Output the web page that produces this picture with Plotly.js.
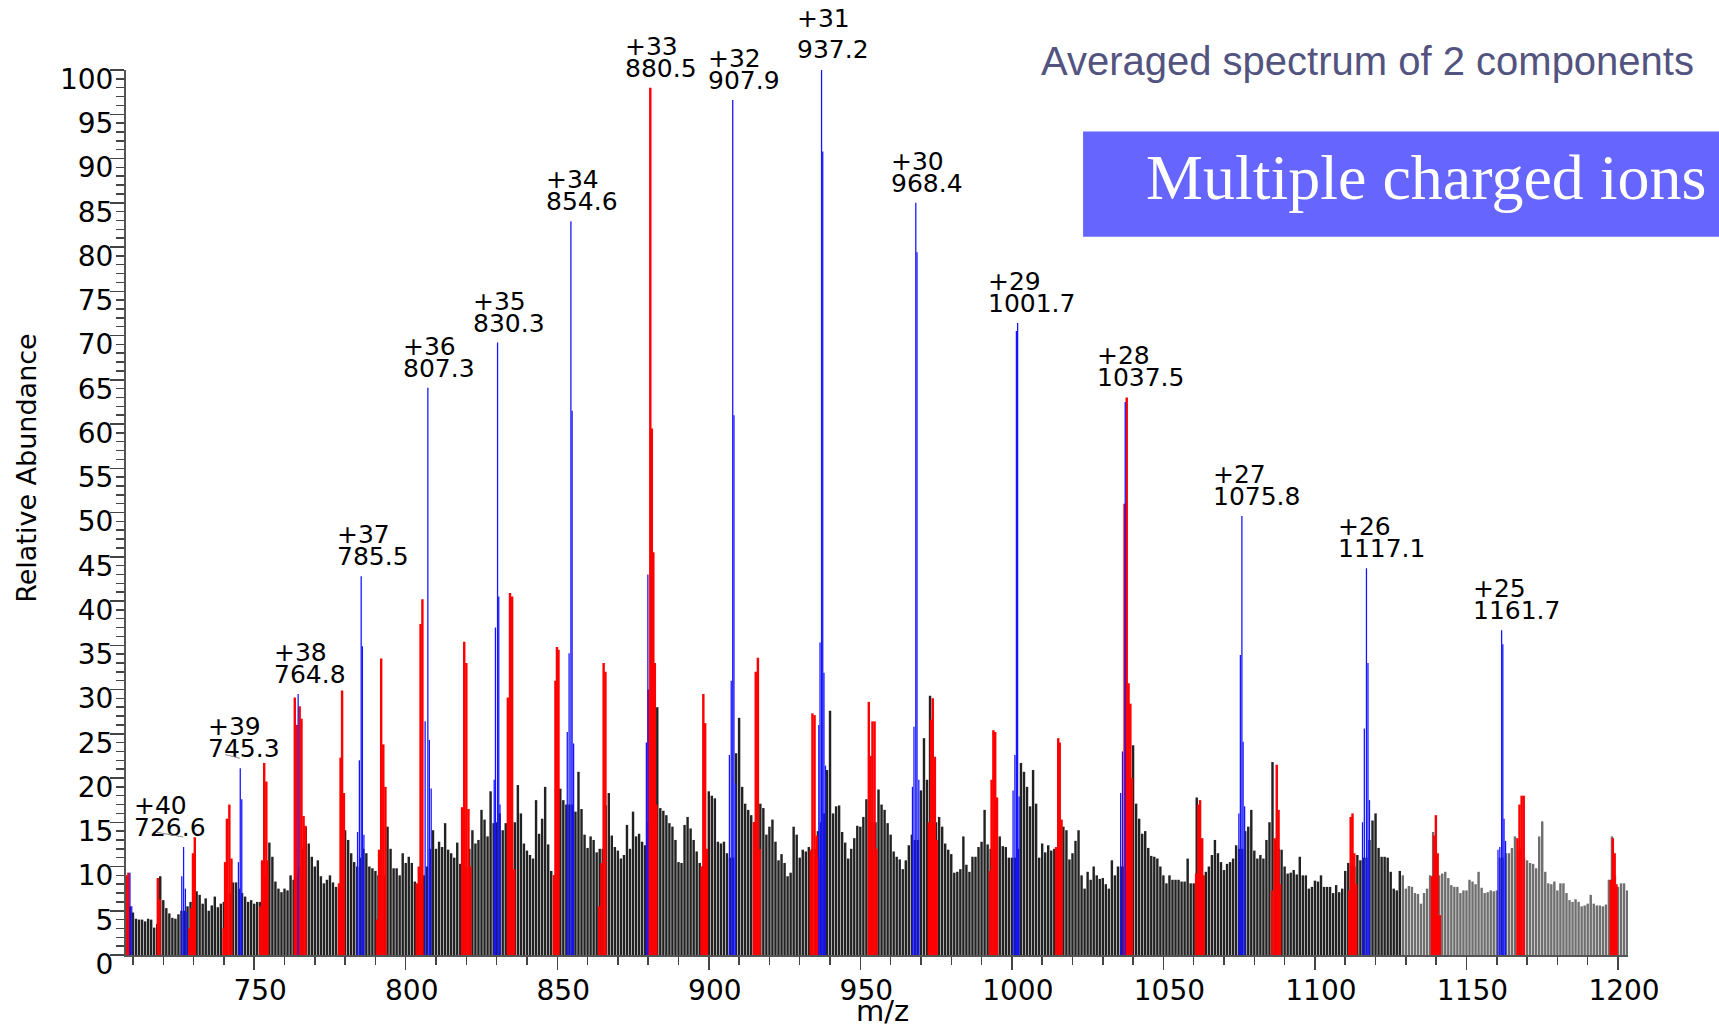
<!DOCTYPE html>
<html><head><meta charset="utf-8">
<script src="https://cdn.plot.ly/plotly-3.0.1.min.js"></script>
<style>html,body{margin:0;padding:0;background:#fff;}#chart{width:1719px;height:1029px;}</style>
</head><body><div id="chart"></div>
<script>
// ---- data ----
const noiseStart = 708; // m/z of first background bar, one bar per m/z unit
const noise = [
4.5,5.5,4.8,4.1,4.0,4.0,3.8,4.1,4.0,3.1,
3.5,8.9,6.2,5.3,4.7,4.2,4.1,4.6,5.0,5.0,
5.5,6.0,6.5,7.2,6.8,5.8,6.4,5.0,5.6,6.6,
5.4,5.8,6.0,6.5,7.0,8.2,8.2,7.5,7.0,6.6,
6.0,6.2,5.8,6.0,6.0,6.5,9.0,12.7,11.1,8.3,
7.5,7.1,7.5,7.3,9.0,8.5,9.0,10.0,12.0,14.5,
12.6,11.1,10.0,10.7,8.9,8.1,8.5,9.0,8.2,7.7,
8.0,10.0,14.1,13.0,11.5,10.5,10.0,11.0,12.0,11.5,
10.0,9.8,9.5,9.0,9.0,9.0,14.5,12.0,9.8,9.8,
9.0,11.5,10.4,11.1,10.4,8.3,8.0,8.0,9.0,10.0,
12.0,14.1,12.0,12.8,12.2,14.9,11.9,11.5,11.0,12.7,
10.3,10.0,10.0,12.0,14.1,12.6,13.0,16.4,15.3,13.4,
18.5,14.9,15.0,16.0,14.1,14.9,15.0,15.0,15.0,19.2,
16.0,12.6,11.8,11.3,10.9,17.5,13.7,15.4,19.0,12.5,
9.5,9.0,9.0,18.8,17.5,17.0,17.0,17.0,16.2,20.7,
16.5,13.6,12.1,13.4,13.0,11.6,12.0,12.0,16.9,18.3,
13.5,12.2,11.8,10.9,11.3,14.7,12.0,16.2,13.4,13.7,
12.8,12.4,15.0,15.0,20.0,28.0,16.6,16.3,15.8,14.9,
14.5,13.0,10.5,10.4,14.7,15.6,14.3,13.0,11.7,10.4,
10.0,10.0,18.5,18.0,17.7,12.8,12.6,12.8,11.5,11.0,
11.0,22.8,26.8,19.0,17.1,16.4,15.8,15.0,15.0,17.1,
16.6,13.6,14.5,15.3,12.8,10.7,11.4,10.4,8.9,9.3,
14.5,13.6,11.0,11.9,11.7,12.2,12.0,12.0,14.0,15.0,
16.0,20.9,27.6,16.0,16.8,16.9,13.9,12.7,10.9,12.0,
13.2,14.6,14.5,15.6,17.6,15.3,15.0,15.0,18.7,17.0,
16.4,14.9,13.6,11.7,11.1,10.8,9.7,10.7,12.4,13.6,
13.0,13.0,18.6,24.5,19.8,29.3,15.0,15.0,15.6,14.5,
12.6,11.9,11.4,9.3,9.4,9.7,13.4,10.2,9.4,11.1,
11.1,12.2,12.8,16.4,12.5,12.0,12.0,12.0,13.4,12.3,
12.2,11.0,11.0,11.0,12.0,21.7,20.7,19.0,16.8,20.9,
17.1,11.0,12.6,11.6,12.4,11.8,12.0,12.0,12.0,14.5,
14.1,10.8,11.5,12.9,14.1,9.0,7.5,9.4,8.5,10.0,
9.0,8.6,8.7,8.0,7.5,10.7,9.0,10.0,10.0,10.0,
12.0,15.0,23.7,17.1,15.4,13.7,14.0,12.1,11.2,11.1,
10.9,10.0,9.0,8.1,9.0,8.5,8.5,8.5,8.3,8.3,
10.9,8.1,8.1,17.8,9.0,9.0,9.4,10.0,11.3,13.0,
11.5,10.5,9.6,10.3,10.5,10.9,12.4,12.0,12.0,14.0,
14.5,16.4,11.8,10.9,11.3,10.9,13.0,15.0,21.8,13.0,
12.0,11.9,10.0,9.2,9.3,9.6,9.1,11.1,9.0,9.0,
7.5,7.7,8.4,8.3,9.0,7.7,7.7,7.7,7.0,7.9,
7.1,7.5,9.5,10.4,10.0,10.0,11.3,10.7,11.0,11.0,
13.0,15.2,16.0,12.1,11.1,11.1,11.0,9.4,7.5,7.3,
9.5,9.0,7.5,7.8,7.7,7.0,6.9,5.8,7.0,7.5,
9.0,13.9,9.0,9.0,9.2,9.4,8.7,7.9,7.7,7.7,
7.0,7.3,7.3,8.5,8.3,8.0,9.4,7.6,7.0,7.1,
7.3,7.2,7.3,11.0,11.0,11.5,11.5,12.1,13.4,12.0,
12.0,11.0,10.7,10.4,10.3,9.8,13.4,15.1,9.4,8.1,
8.0,8.3,7.3,8.1,8.1,7.0,6.2,6.0,6.3,6.0,
5.5,5.6,5.8,6.8,5.8,5.6,5.6,5.5,5.7,8.5,
13.4,9.0,7.7,8.1,8.1,7.3
];

// second component (red)
const redMz = [
707.9,708.5, 718.2,718.8, 728.6,729.2,729.8,730.4,
739.9,740.4,741.0,741.8,742.5, 752.0,752.6,753.3,754.0,754.4,
763.4,764.0,765.0,765.6,766.3,766.9, 778.0,778.5,779.0,779.6,
790.5,791.2,791.9,792.6,793.3, 803.6,804.3,804.9,805.5,
818.6,819.3,820.0,820.7,821.3, 833.7,834.4,835.1,835.8,
848.9,849.4,849.9,850.4, 863.8,864.6,865.3,865.9,
880.1,880.7,881.2,881.7,882.2,882.7, 897.6,898.2,898.8,899.4,
914.9,915.5,916.2,916.8, 933.6,934.2,934.9,935.6,936.2,
952.8,953.4,954.0,954.7,955.3, 972.6,973.3,973.9,974.6,975.2,
992.8,993.3,993.9,994.5,995.1, 1014.6,1015.3,1015.8,1016.4,
1037.2,1037.9,1038.5,1039.1,1039.6, 1060.8,1061.5,1062.1,1062.8,1063.3,
1085.9,1086.7,1087.4,1088.0,1088.5, 1111.3,1111.8,1112.4,1113.0,1113.6,
1138.6,1139.3,1139.9,1140.5,1141.2, 1166.8,1167.5,1168.2,1168.9,
1197.6,1198.3,1198.9,1199.5
];
const redHt = [
9.0,9.3, 8.7,6.3, 3.0,5.3,11.5,13.3,
3.0,10.5,15.4,17.0,10.9, 5.5,10.7,21.7,19.6,10.7,
29.1,26.0,28.1,26.7,15.7,14.6, 8.1,22.3,29.9,18.3,
4.0,11.9,33.5,23.8,19.0, 8.1,10.0,37.4,40.2,
16.7,35.4,33.0,16.5,10.0, 29.1,40.9,40.5,9.7,
9.0,31.0,34.8,34.5, 5.5,10.4,33.0,32.0,
30.0,98.0,59.5,45.5,33.0,17.0, 10.0,29.5,26.2,12.0,
15.0,32.0,33.6,12.0, 11.8,27.3,27.1,13.5,11.0,
28.6,22.5,26.4,26.4,12.0, 15.0,26.6,29.0,22.4,13.0,
9.5,19.8,25.4,25.2,17.8, 12.2,24.5,24.0,15.3,
51.0,63.0,30.7,28.4,20.0, 9.2,17.0,17.5,13.2,9.0,
7.3,13.2,21.5,16.4,8.0, 7.3,15.6,16.0,11.5,8.0,
8.9,13.5,15.8,11.5,4.5, 13.2,17.0,18.0,18.0,
8.5,13.2,11.5,8.0
];

// first component (blue)
const blueMz = [
709.0,709.6, 726.1,726.7,727.3,727.8, 744.8,745.4,745.9, 764.5,
784.1,784.7,785.3,785.7,786.2, 806.4,807.3,807.8,808.4,
829.2,829.6,830.3,830.7,831.1, 853.3,853.9,854.5,854.9,855.4,
879.4,879.9, 906.8,907.4,907.9,908.3,908.8,
936.3,936.7,937.2,937.6,938.0,938.5, 967.2,967.7,968.3,968.7,969.3,
1000.4,1001.0,1001.5,1001.9,1002.4, 1035.9,1036.5,1037.4,
1074.9,1075.4,1075.9,1076.3,1076.8, 1115.7,1116.3,1117.0,1117.5,1118.0,
1160.4,1161.0,1161.6,1162.0,1162.4,1162.9
];
const blueHt = [
9.3,5.5, 8.9,12.2,7.5,4.9, 10.5,21.1,17.6, 29.5,
13.9,22.0,42.8,34.9,13.6, 26.4,64.1,24.3,18.8,
19.8,37.0,69.2,40.5,17.0, 25.2,34.1,82.9,61.5,23.9,
24.0,43.0, 22.6,31.0,96.6,61.0,19.4,
26.0,35.3,100.1,90.8,31.9,21.4, 19.0,25.8,85.0,79.4,19.8,
18.6,22.6,70.5,71.4,17.9, 18.3,23.0,62.5,
16.0,33.9,49.6,24.1,16.8, 15.0,25.6,43.7,33.0,17.5,
11.9,12.2,36.7,35.1,15.4,12.9
];

// peak labels
const charges  = [40,39,38,37,36,35,34,33,32,31,30,29,28,27,26,25];
const labelMz  = ['726.6','745.3','764.8','785.5','807.3','830.3','854.6','880.5',
                  '907.9','937.2','968.4','1001.7','1037.5','1075.8','1117.1','1161.7'];

const titleText = 'Averaged spectrum of 2 components';
const boxText   = 'Multiple charged ions';
const xTitle    = 'm/z';
const yTitle    = 'Relative Abundance';

// ---- build ----
const Y_MAX = 100;
const PX_PER_UNIT = 885 / Y_MAX; // plot height / y range
const noiseMz = noise.map((_, i) => noiseStart + i);
const noiseColors = noiseMz.map(m => m < 1129 ? '#222222' : '#6f6f6f');

function peakHeight(mz) {
  let h = 0;
  [[redMz, redHt], [blueMz, blueHt]].forEach(([xs, ys]) => {
    xs.forEach((x, i) => { if (Math.abs(x - mz) <= 0.6 && ys[i] > h) h = ys[i]; });
  });
  return h;
}

const traces = [
  {type:'bar', x: noiseMz, y: noise, width: 0.8,
   marker:{color: noiseColors, line:{width:0}}, hoverinfo:'skip'},
  {type:'bar', x: redMz, y: redHt, width: 0.8,
   marker:{color:'#ff0000', line:{width:0}}, hoverinfo:'skip'},
  {type:'bar', x: blueMz, y: blueHt, width: 0.42,
   marker:{color:'#1414ff', line:{width:0}}, hoverinfo:'skip'}
];

const labFont = {family:'DejaVu Sans, sans-serif', size:25, color:'#000'};
const annotations = [];
charges.forEach((c, i) => {
  const mz = parseFloat(labelMz[i]);
  const h = peakHeight(mz);
  const yc = Math.min(h, Y_MAX);
  const extra = (h - yc) * PX_PER_UNIT;
  let dx = labelMz[i].length > 5 ? -30 : -26;
  if (c === 40) dx = -50;
  if (c === 39) dx = -33;
  const pitch = c === 31 ? 31 : 22;
  const common = {x: mz, y: yc, xref:'x', yref:'y', showarrow:false, xanchor:'left', yanchor:'bottom',
    xshift: dx, height: 21, borderpad: 0, valign:'middle', font: labFont};
  annotations.push(Object.assign({}, common, {text: labelMz[i], yshift: 8 + extra}));
  annotations.push(Object.assign({}, common, {text: '+' + c, yshift: 8 + extra + pitch}));
  // faint leader line for the labels that were pushed aside
  if (c === 40 || c === 39) {
    annotations.push({x: mz, y: yc, xref:'x', yref:'y', text:'', showarrow:true, arrowhead:0,
      arrowwidth:1, arrowcolor:'#8a8a8a', ax: c === 40 ? -28 : -16, ay: c === 40 ? -5 : -4,
      yshift: 10, standoff:0, startstandoff:0});
  }
});
annotations.push({xref:'paper', yref:'paper', x:1.0453, y:1.0102, xanchor:'right', yanchor:'middle',
  text: titleText, showarrow:false, font:{family:'Liberation Sans, Arial, sans-serif', size:40, color:'#535380'}});
annotations.push({xref:'paper', yref:'paper', x:1.054, y:0.879, xanchor:'right', yanchor:'middle',
  text: boxText, showarrow:false, font:{family:'Liberation Serif, Times New Roman, serif', size:64, color:'#ffffff'}});
// axis titles
annotations.push({xref:'paper', yref:'paper', x:-0.066, y:0.5503, xanchor:'center', yanchor:'middle',
  textangle:-90, text: yTitle, showarrow:false, font:{family:'DejaVu Sans, sans-serif', size:27, color:'#000'}});
annotations.push({xref:'paper', yref:'paper', x:0.5037, y:-0.0635, xanchor:'center', yanchor:'middle',
  height: 30, borderpad: 0, text: xTitle, showarrow:false, font:{family:'DejaVu Sans, sans-serif', size:29, color:'#000'}});

const tickFont = {family:'DejaVu Sans, sans-serif', size:28, color:'#000'};
const layout = {
  width:1719, height:1029,
  margin:{l:126, r:91, t:70, b:74, pad:0},
  paper_bgcolor:'#ffffff', plot_bgcolor:'#ffffff',
  barmode:'overlay', showlegend:false,
  xaxis:{range:[707.7,1203.3], tickmode:'linear', tick0:750, dtick:50,
    ticks:'outside', ticklen:13, tickwidth:1.5, tickcolor:'#444',
    minor:{tick0:700, dtick:10, ticks:'outside', ticklen:8, tickwidth:1.5, tickcolor:'#444', showgrid:false},
    showline:true, linecolor:'#555', linewidth:2, showgrid:false, zeroline:false,
    tickfont: tickFont, ticklabelshift: 6, ticklabelstandoff: -4, automargin:false},
  yaxis:{range:[0,Y_MAX], tickmode:'linear', tick0:0, dtick:5,
    ticks:'outside', ticklen:14, tickwidth:1.5, tickcolor:'#444',
    minor:{tick0:0, dtick:1, ticks:'outside', ticklen:8, tickwidth:1.5, tickcolor:'#444', showgrid:false},
    showline:true, linecolor:'#555', linewidth:2, showgrid:false, zeroline:false,
    tickfont: tickFont, ticklabelshift: 9, ticklabelstandoff: -9, automargin:false},
  shapes:[{type:'rect', xref:'paper', yref:'paper', x0:0.6372, x1:1.08, y0:0.8115, y1:0.9305,
    fillcolor:'#6666ff', line:{width:0}, layer:'above'}],
  annotations: annotations
};

Plotly.newPlot('chart', traces, layout, {staticPlot:true, displayModeBar:false});
</script>
</body></html>
